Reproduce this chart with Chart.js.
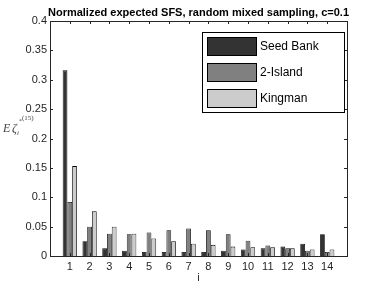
<!DOCTYPE html>
<html><head><meta charset="utf-8">
<script src="https://cdn.jsdelivr.net/npm/chart.js@4"></script>
<style>html,body{margin:0;padding:0;background:#fff}#wrap{width:384px;height:288px}</style>
</head><body><div id="wrap"><canvas id="c" width="384" height="288"></canvas></div>
<script>
const categories = [1,2,3,4,5,6,7,8,9,10,11,12,13,14];
const seedBank = [0.316,0.025,0.013,0.009,0.007,0.007,0.007,0.007,0.009,0.011,0.013,0.016,0.021,0.037];
const twoIsland = [0.092,0.050,0.038,0.037,0.040,0.044,0.047,0.044,0.037,0.026,0.018,0.013,0.009,0.007];
const kingman = [0.153,0.076,0.050,0.038,0.030,0.025,0.021,0.019,0.016,0.015,0.015,0.013,0.011,0.011];
const yTicks = [0,0.05,0.1,0.15,0.2,0.25,0.3,0.35,0.4];
const seriesNames = ['Seed Bank','2-Island','Kingman'];
const seriesColors = ['#333333','#808080','#cccccc'];
const titleText = 'Normalized expected SFS, random mixed sampling, c=0.1';

const toXY = arr => categories.map((c,i)=>({x:c,y:arr[i]}));
const ds = [seedBank,twoIsland,kingman].map((arr,k)=>({
  label: seriesNames[k], data: toXY(arr), backgroundColor: seriesColors[k],
  borderColor:'#000', borderWidth:0.8, categoryPercentage:0.72, barPercentage:1
}));

const decor = {
  id:'decor',
  afterDraw(chart){
    const ctx=chart.ctx, a=chart.chartArea, xs=chart.scales.x, ys=chart.scales.y;
    ctx.save();
    ctx.strokeStyle='#262626'; ctx.lineWidth=1;
    ctx.strokeRect(Math.round(a.left)+0.5,Math.round(a.top)+0.5,Math.round(a.right-a.left),Math.round(a.bottom-a.top));
    ctx.beginPath();
    yTicks.forEach(v=>{const y=Math.round(ys.getPixelForValue(v))+0.5;
      ctx.moveTo(a.left,y);ctx.lineTo(a.left+3,y);ctx.moveTo(a.right,y);ctx.lineTo(a.right-3,y);});
    categories.forEach(v=>{const x=Math.round(xs.getPixelForValue(v))+0.5;
      ctx.moveTo(x,a.bottom);ctx.lineTo(x,a.bottom-3);ctx.moveTo(x,a.top);ctx.lineTo(x,a.top+3);});
    ctx.stroke();
    ctx.fillStyle='#000'; ctx.font='bold 11px "Liberation Sans", Arial, sans-serif';
    ctx.textAlign='center'; ctx.textBaseline='middle';
    ctx.fillText(titleText,(a.left+a.right)/2,13);
    ctx.fillStyle='#262626'; ctx.font='11px "Liberation Sans", Arial, sans-serif';
    ctx.fillText('i',(a.left+a.right)/2,278);
    // y label
    ctx.fillStyle='#444'; ctx.textAlign='left'; ctx.textBaseline='alphabetic';
    ctx.font='italic 12px "Liberation Serif", "DejaVu Serif", serif';
    ctx.fillText('E',3,132);
    ctx.fillText('ζ',12,132);
    ctx.font='italic 7px "Liberation Serif", serif';
    ctx.fillText('i',17,135);
    ctx.font='6px "Liberation Serif", serif';
    ctx.fillText('*',19,123);
    ctx.font='7px "Liberation Serif", serif';
    ctx.fillText('(15)',22,120);
    // legend
    const L=202,T=32,R=344,B=112;
    ctx.fillStyle='#fff'; ctx.fillRect(L,T,R-L,B-T);
    ctx.strokeStyle='#000'; ctx.strokeRect(L+0.5,T+0.5,R-L,B-T);
    const rows=[37,63,89];
    seriesNames.forEach((n,k)=>{
      ctx.fillStyle=seriesColors[k]; ctx.fillRect(207,rows[k],49,18);
      ctx.strokeStyle='#000'; ctx.strokeRect(207.5,rows[k]+0.5,49,18);
      ctx.fillStyle='#000'; ctx.font='12px "Liberation Sans", Arial, sans-serif';
      ctx.textBaseline='middle'; ctx.fillText(n,260,rows[k]+10);
    });
    ctx.restore();
  }
};

new Chart(document.getElementById('c'),{
  type:'bar',
  data:{datasets:ds},
  plugins:[decor],
  options:{
    responsive:false, animation:false, devicePixelRatio:1,
    layout:{padding:{top:21,right:37,bottom:0,left:0}},
    plugins:{legend:{display:false},title:{display:false},tooltip:{enabled:false}},
    scales:{
      x:{type:'linear',min:0,max:15,offset:false,
        grid:{display:false,drawTicks:false},border:{display:false},
        afterBuildTicks:s=>{s.ticks=categories.map(v=>({value:v}));},
        afterFit:s=>{s.height=32;},
        ticks:{color:'#262626',font:{size:11,family:'"Liberation Sans", Arial, sans-serif'},padding:4,maxRotation:0,autoSkip:false,
          callback:v=>String(v)}},
      y:{min:0,max:0.4,
        grid:{display:false,drawTicks:false},border:{display:false},
        afterBuildTicks:s=>{s.ticks=yTicks.map(v=>({value:v}));},
        afterFit:s=>{s.width=50;},
        ticks:{color:'#262626',font:{size:11,family:'"Liberation Sans", Arial, sans-serif'},padding:3,
          callback:v=>String(+v.toFixed(2))}}
    }
  }
});
</script></body></html>
